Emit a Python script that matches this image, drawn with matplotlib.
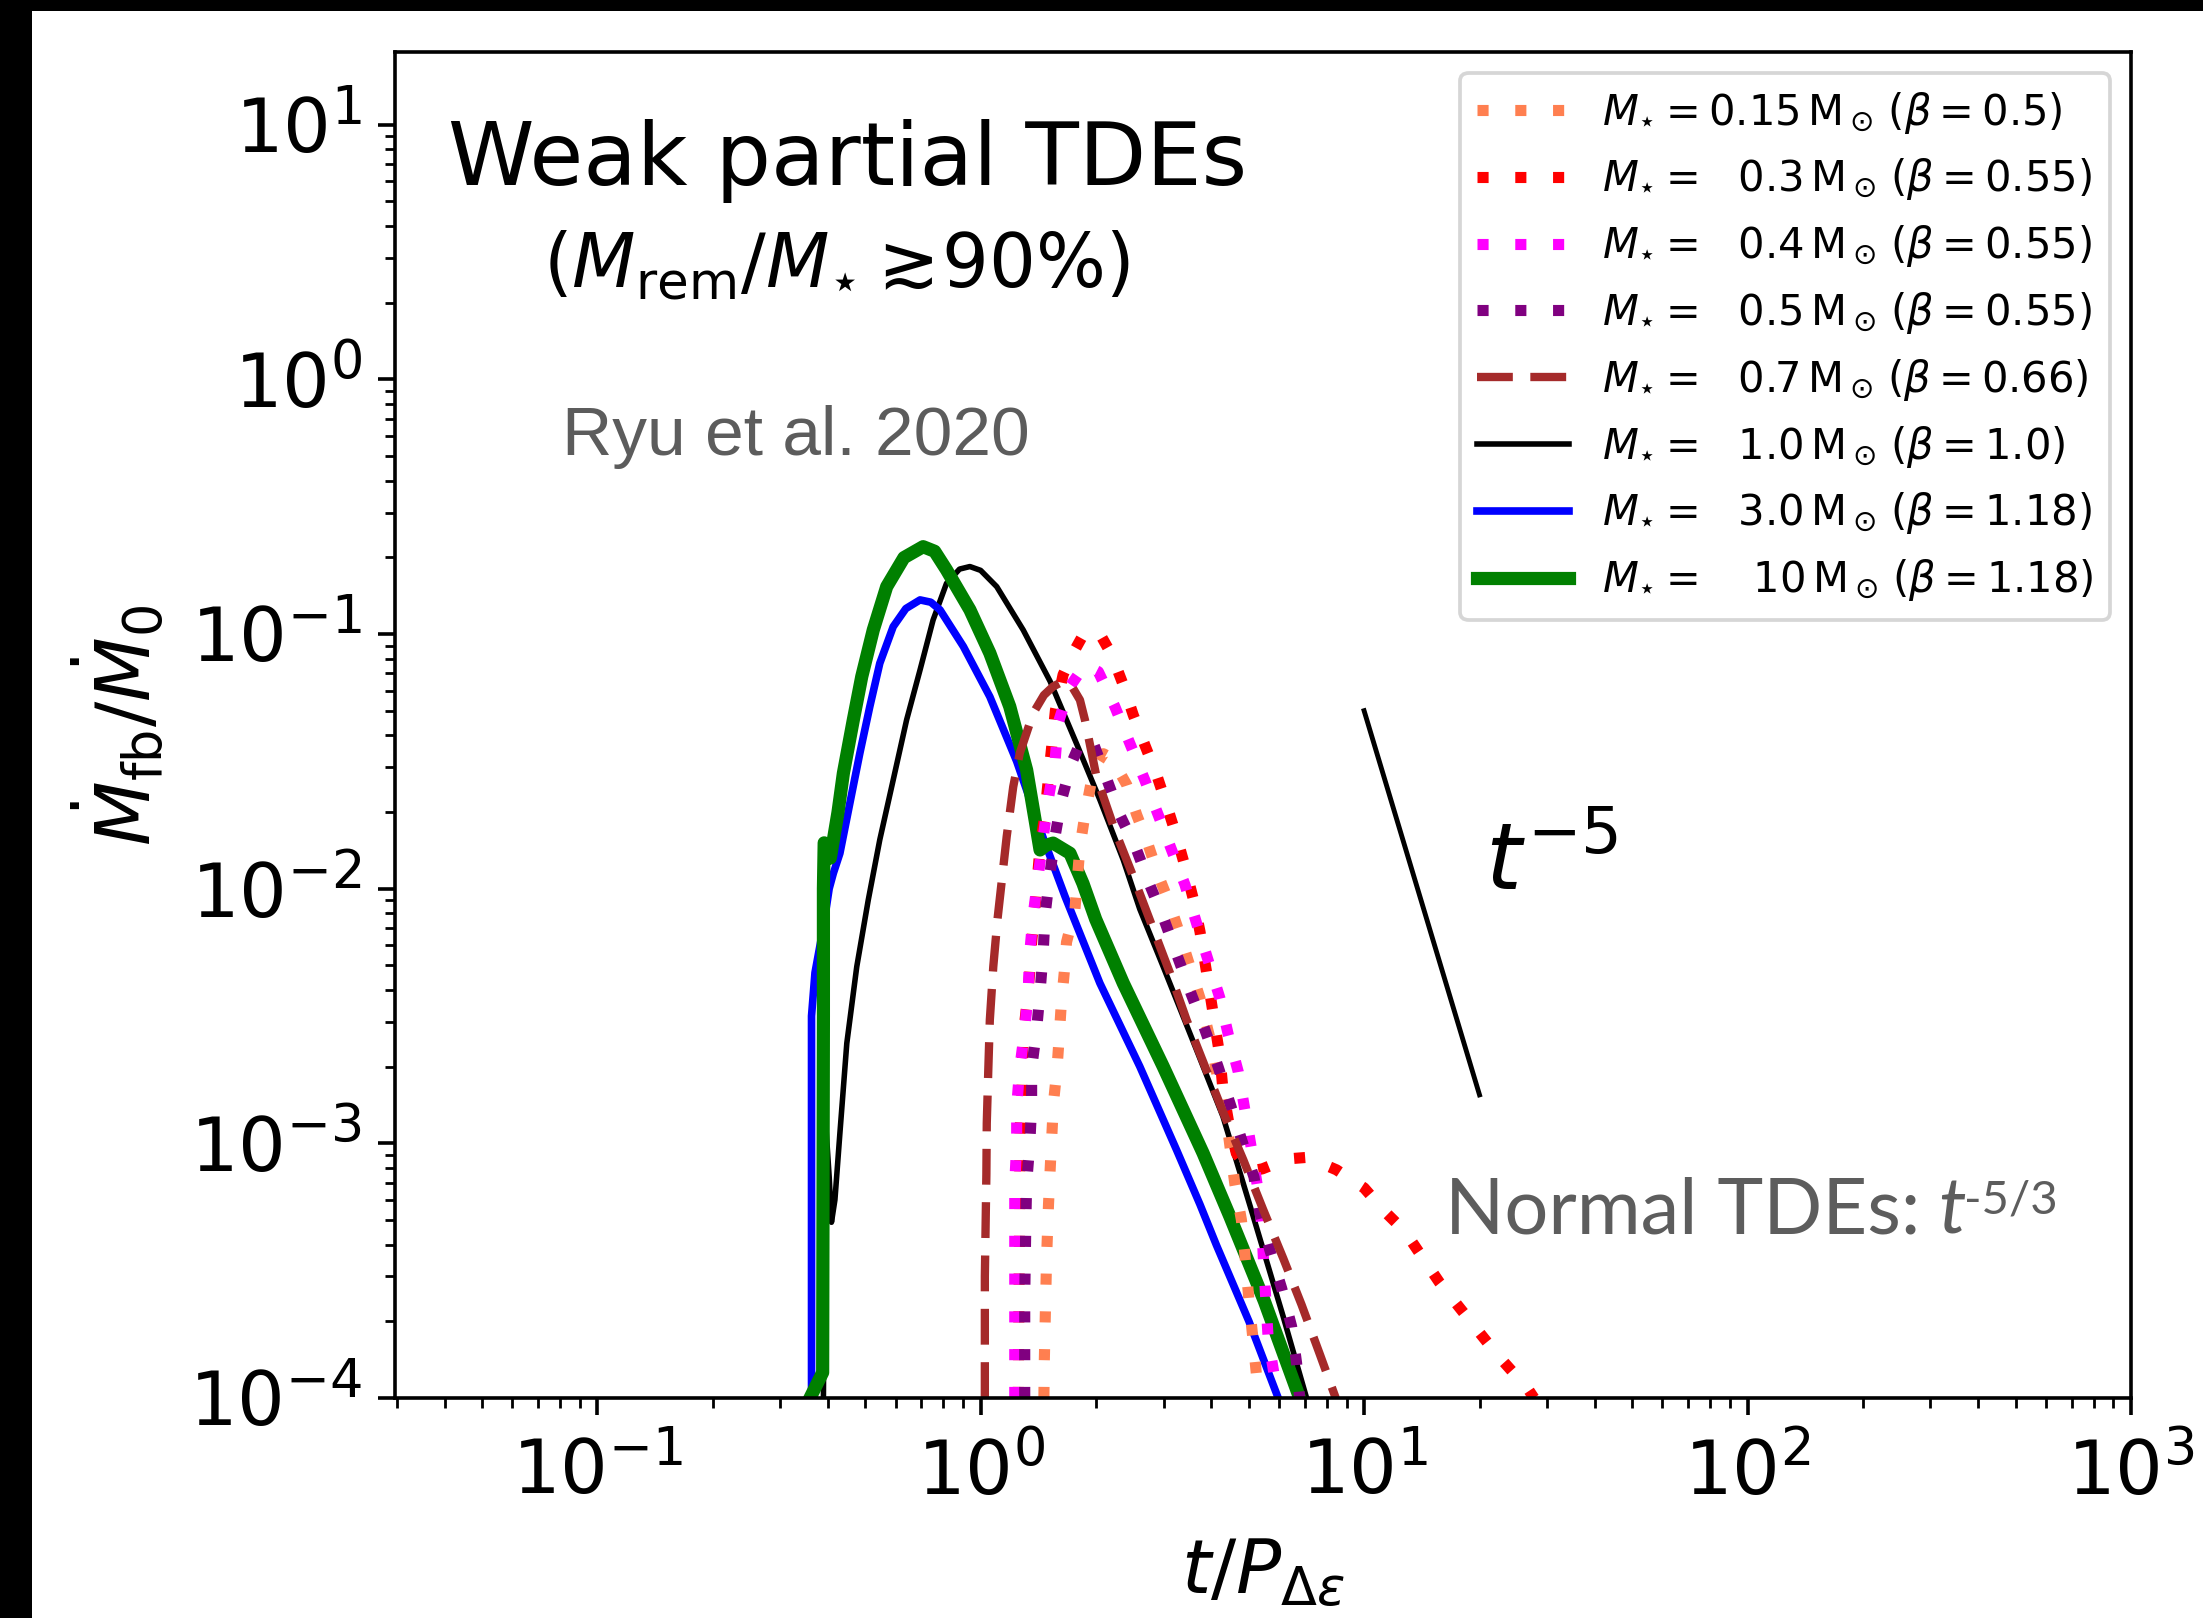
import numpy as np
import matplotlib
matplotlib.use("Agg")
import matplotlib.pyplot as plt
from matplotlib.patches import Rectangle

# --- data (log10 of t/P and of Mdot_fb/M0) ---
coral_logt = [0.165, 0.166, 0.168, 0.172, 0.177, 0.183, 0.190, 0.199, 0.205, 0.210, 0.218, 0.224,
              0.246, 0.259, 0.272, 0.295, 0.320, 0.342, 0.381, 0.407, 0.437, 0.463, 0.494, 0.520,
              0.546, 0.572, 0.600, 0.624, 0.645, 0.663, 0.680, 0.690, 0.700, 0.711, 0.720, 0.725]
coral_logm = [-4.0, -3.86, -3.72, -3.45, -3.24, -3.05, -2.84, -2.71, -2.58, -2.46, -2.33, -2.21,
              -2.08, -1.835, -1.71, -1.53, -1.47, -1.488, -1.592, -1.71, -1.828, -1.946, -2.064, -2.181,
              -2.306, -2.43, -2.60, -2.79, -2.95, -3.16, -3.30, -3.45, -3.62, -3.78, -3.92, -4.0]

red_logt = [0.098, 0.100, 0.102, 0.102, 0.107, 0.111, 0.120, 0.128, 0.133, 0.142, 0.155, 0.168,
            0.176, 0.185, 0.195, 0.215, 0.241, 0.265, 0.289, 0.315, 0.342, 0.372, 0.398, 0.428,
            0.459, 0.485, 0.511, 0.533, 0.554, 0.572, 0.598, 0.611, 0.624, 0.632, 0.646, 0.667,
            0.700, 0.735, 0.772, 0.810, 0.852, 0.928, 1.000, 1.054, 1.106, 1.196, 1.270, 1.345,
            1.428, 1.443]
red_logm = [-4.0, -3.6, -3.24, -2.97, -2.83, -2.58, -2.46, -2.33, -2.21, -2.07, -1.835, -1.704,
            -1.579, -1.448, -1.30, -1.16, -1.075, -1.01, -0.984, -1.01, -1.082, -1.20, -1.318, -1.435,
            -1.553, -1.671, -1.795, -1.913, -2.037, -2.168, -2.41, -2.535, -2.659, -2.79, -2.91, -3.04,
            -3.11, -3.10, -3.078, -3.06, -3.055, -3.104, -3.175, -3.268, -3.345, -3.545, -3.685, -3.826,
            -3.966, -4.0]

magenta_logt = [0.089, 0.089, 0.089, 0.089, 0.094, 0.094, 0.102, 0.115, 0.124, 0.128, 0.137, 0.150,
                0.176, 0.194, 0.202, 0.233, 0.272, 0.307, 0.350, 0.389, 0.428, 0.463, 0.498, 0.533,
                0.563, 0.593, 0.624, 0.646, 0.672, 0.689, 0.706, 0.722, 0.733, 0.738, 0.750, 0.767, 0.775]
magenta_logm = [-4.0, -3.6, -3.29, -3.156, -3.006, -2.856, -2.705, -2.554, -2.404, -2.253, -2.103, -1.952,
                -1.651, -1.501, -1.35, -1.206, -1.121, -1.148, -1.285, -1.429, -1.573, -1.71, -1.848, -1.985,
                -2.135, -2.28, -2.43, -2.574, -2.72, -2.868, -3.019, -3.17, -3.32, -3.47, -3.77, -3.922, -4.0]

purple_logt = [0.115, 0.115, 0.118, 0.120, 0.128, 0.133, 0.133, 0.146, 0.155, 0.163, 0.168, 0.180,
               0.194, 0.211, 0.237, 0.265, 0.294, 0.328, 0.363, 0.407, 0.441, 0.478, 0.515, 0.550,
               0.585, 0.619, 0.650, 0.680, 0.713, 0.728, 0.754, 0.785, 0.811, 0.824, 0.832]
purple_logm = [-4.0, -3.6, -3.3, -3.156, -3.006, -2.856, -2.705, -2.554, -2.404, -2.253, -2.103, -1.95,
               -1.795, -1.651, -1.507, -1.41, -1.429, -1.566, -1.71, -1.848, -1.985, -2.12, -2.273, -2.417,
               -2.554, -2.698, -2.842, -2.983, -3.133, -3.274, -3.418, -3.569, -3.719, -3.863, -4.0]

brown_logt = [0.011, 0.011, 0.015, 0.016, 0.020, 0.024, 0.033, 0.044, 0.068, 0.085, 0.102, 0.137,
              0.165, 0.189, 0.215, 0.233, 0.259, 0.272, 0.302, 0.350, 0.400, 0.441, 0.494, 0.537,
              0.585, 0.637, 0.685, 0.737, 0.789, 0.837, 0.885, 0.926]
brown_logm = [-4.0, -3.523, -3.12, -2.921, -2.711, -2.515, -2.306, -2.12, -1.795, -1.60, -1.468, -1.311,
              -1.24, -1.206, -1.186, -1.193, -1.259, -1.337, -1.56, -1.77, -1.96, -2.122, -2.332, -2.515,
              -2.698, -2.895, -3.065, -3.261, -3.451, -3.634, -3.830, -4.0]

black_logt = [-0.410, -0.405, -0.395, -0.389, -0.380, -0.367, -0.349, -0.323, -0.293, -0.263, -0.228,
              -0.193, -0.158, -0.124, -0.089, -0.055, -0.028, 0.000, 0.042, 0.111, 0.181, 0.250,
              0.311, 0.372, 0.415, 0.476, 0.563, 0.632, 0.711, 0.789, 0.850]
black_logm = [-4.0, -2.9, -3.13, -3.31, -3.222, -2.96, -2.607, -2.306, -2.044, -1.808, -1.573,
              -1.337, -1.141, -0.945, -0.801, -0.745, -0.735, -0.75, -0.814, -0.984, -1.185, -1.43,
              -1.651, -1.887, -2.08, -2.306, -2.633, -2.895, -3.287, -3.68, -4.0]

blue_logt = [-0.441, -0.441, -0.432, -0.410, -0.395, -0.384, -0.367, -0.341, -0.315, -0.289, -0.263,
             -0.228, -0.195, -0.158, -0.130, -0.106, -0.045, 0.024, 0.094, 0.163, 0.220, 0.311,
             0.415, 0.511, 0.572, 0.615, 0.700, 0.776]
blue_logm = [-4.0, -2.5, -2.33, -2.15, -2.0, -1.939, -1.861, -1.664, -1.468, -1.285, -1.115,
             -0.971, -0.90, -0.866, -0.875, -0.905, -1.049, -1.246, -1.50, -1.80, -2.03, -2.371,
             -2.698, -3.026, -3.24, -3.40, -3.70, -4.0]

green_logt = [-0.445, -0.412, -0.410, -0.410, -0.408, -0.392, -0.372, -0.358, -0.332, -0.310, -0.280,
              -0.245, -0.200, -0.150, -0.120, -0.089, -0.028, 0.024, 0.076, 0.120, 0.142, 0.155,
              0.170, 0.189, 0.233, 0.267, 0.300, 0.372, 0.476, 0.580, 0.650, 0.740, 0.832]
green_logm = [-4.0, -3.9, -2.5, -2.0, -1.82, -1.88, -1.70, -1.547, -1.337, -1.167, -0.984,
              -0.814, -0.70, -0.657, -0.675, -0.748, -0.905, -1.075, -1.285, -1.534, -1.730, -1.848,
              -1.83, -1.821, -1.861, -1.98, -2.12, -2.371, -2.698, -3.038, -3.287, -3.62, -4.0]

# t^-5 guide line end points
guide_t = [10.0, 20.0]
guide_m = [0.050, 0.00155]

masses = ['0.15', '0.3', '0.4', '0.5', '0.7', '1.0', '3.0', '10']
betas = ['0.5', '0.55', '0.55', '0.55', '0.66', '1.0', '1.18', '1.18']
pads = [0.0, 0.72, 0.72, 0.72, 0.72, 0.72, 0.72, 1.09]

W, H = 2203, 1618
STAR = '\u22c6'


def fx(px):
    return px / W


def fy(py):
    return 1 - py / H


fig = plt.figure(figsize=(W / 100, H / 100), dpi=100)
ax = fig.add_axes([fx(395), fy(1398), (2131 - 395) / W, (1398 - 52) / H])


def curve(lt, lm):
    return 10 ** np.array(lt), 10 ** np.array(lm)


dot = (1.0, 2.4)
h_black, = ax.plot(*curve(black_logt, black_logm), color='black', lw=4.0)
h_blue, = ax.plot(*curve(blue_logt, blue_logm), color='blue', lw=5.5)
h_green, = ax.plot(*curve(green_logt, green_logm), color='green', lw=9.5)
h_coral, = ax.plot(*curve(coral_logt, coral_logm), color='coral', lw=8, dashes=dot)
h_red, = ax.plot(*curve(red_logt, red_logm), color='red', lw=8, dashes=dot)
h_mag, = ax.plot(*curve(magenta_logt, magenta_logm), color='magenta', lw=8, dashes=dot)
h_pur, = ax.plot(*curve(purple_logt, purple_logm), color='purple', lw=8, dashes=dot)
h_brown, = ax.plot(*curve(brown_logt, brown_logm), color='brown', lw=6.0, dashes=(4.3, 2.1))
ax.plot(guide_t, guide_m, color='black', lw=3.5)

ax.set_xscale('log')
ax.set_yscale('log')
ax.set_xlim(0.0297, 1000)
ax.set_ylim(1e-4, 19.3)

for s in ax.spines.values():
    s.set_linewidth(2.6)
ax.tick_params(which='major', length=12, width=2.6, labelsize=54)
ax.tick_params(axis='x', which='major', pad=16)
ax.tick_params(axis='y', which='major', pad=12)
ax.tick_params(which='minor', length=7, width=2.0)

ax.set_xlabel(r'$t/P_{\Delta\epsilon}$', fontsize=54, labelpad=19)
ax.set_ylabel(r'$\dot{M}_{\rm fb}/\dot{M}_0$', fontsize=54, labelpad=16)

labels = [r'$M_%s = \hspace{%.2f}%s\,{\rm M}_\odot\,(\beta = %s)$' % (STAR, p, m, b)
          for p, m, b in zip(pads, masses, betas)]
labels[0] = r'$M_%s = %s\,{\rm M}_\odot\,(\beta = %s)$' % (STAR, masses[0], betas[0])
handles = [h_coral, h_red, h_mag, h_pur, h_brown, h_black, h_blue, h_green]
leg = ax.legend(handles, labels, loc='upper right', fontsize=30, handlelength=2.2,
                borderaxespad=0.5)
leg.get_frame().set_linewidth(2.7)

# annotations
fig.text(fx(848), fy(185), 'Weak partial TDEs', ha='center', va='baseline', fontsize=63)
fig.text(fx(836), fy(287), r'$(M_{\rm rem}/M_%s\gtrsim\!90\%%)$' % STAR, ha='center',
         va='baseline', fontsize=53)
fig.text(fx(562), fy(455), 'Ryu et al. 2020', ha='left', va='baseline', fontsize=50,
         color='#5c5c5c', family='Liberation Sans')
fig.text(fx(1485), fy(890), r'$t^{-5}$', ha='left', va='baseline', fontsize=66)
fig.text(fx(1445), fy(1234), 'Normal TDEs:', ha='left', va='baseline', fontsize=56,
         color='#5d5d5d', family='Lato')
fig.text(fx(1938), fy(1234), 't', ha='left', va='baseline', fontsize=56,
         color='#5d5d5d', family='Lato', style='italic')
fig.text(fx(1964), fy(1214), '-5/3', ha='left', va='baseline', fontsize=34,
         color='#5d5d5d', family='Lato')

# black border of the screenshot
fig.add_artist(Rectangle((0, 0), fx(32), 1, transform=fig.transFigure,
                         facecolor='black', edgecolor='none', zorder=10))
fig.add_artist(Rectangle((0, fy(11)), 1, 11 / H, transform=fig.transFigure,
                         facecolor='black', edgecolor='none', zorder=10))

fig.savefig('out.png', dpi=100)
